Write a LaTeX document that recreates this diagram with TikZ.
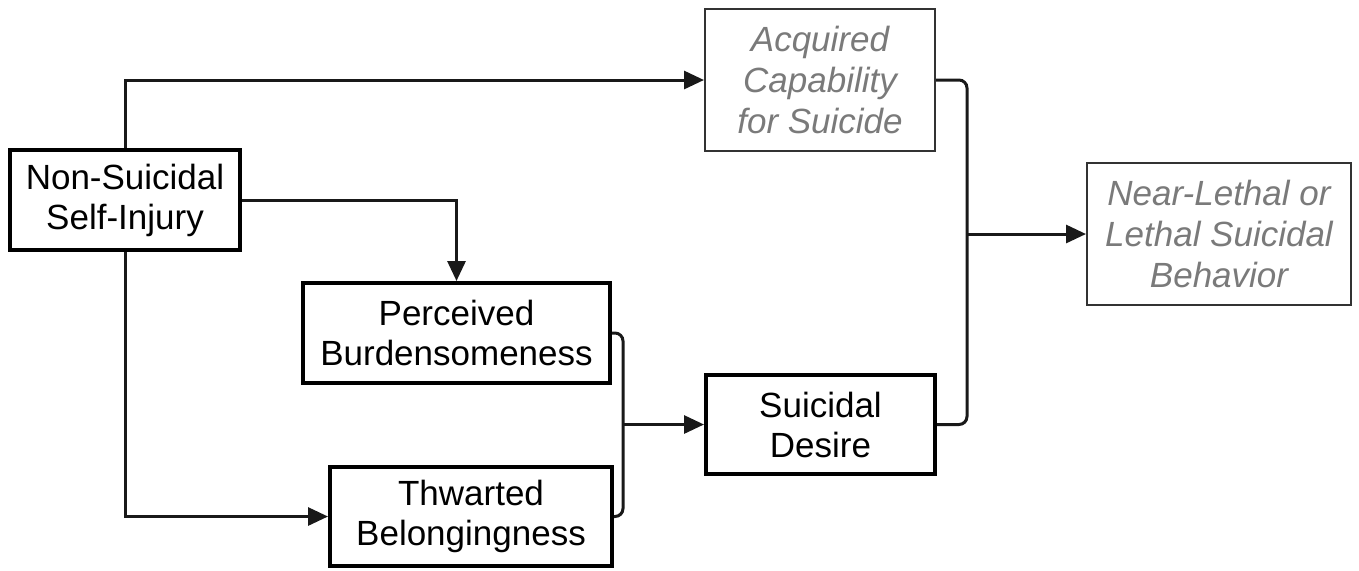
\documentclass[tikz,border=0pt]{standalone}
\usepackage{fontspec}
\setmainfont{Liberation Sans}
\usepackage{xcolor}
\usetikzlibrary{arrows.meta}
\definecolor{textgray}{HTML}{7A7A7A}
\definecolor{linegray}{HTML}{333333}

\begin{document}
\begin{tikzpicture}[x=0.5pt,y=-0.5pt,
    box/.style={draw=black,line width=2pt,align=center,inner sep=0pt,
      font=\fontsize{17.5}{20}\selectfont},
    faintbox/.style={draw=linegray,line width=1pt,align=center,inner sep=0pt,
      text=textgray,font=\fontsize{17.5}{20.5}\selectfont\itshape},
    link/.style={line width=1.5pt,draw=black!90},
    arrow/.style={link,-{Triangle[length=10pt,width=9pt]}}]
  \useasboundingbox (0,0) rectangle (1359,570);
  \node[box,minimum width=115pt,minimum height=50pt] (nssi) at (125,200)
    {Non-Suicidal\\Self-Injury};
  \node[faintbox,minimum width=115pt,minimum height=71pt] (acq) at (820,80)
    {Acquired\\Capability\\for Suicide};
  \node[box,minimum width=153.5pt,minimum height=50pt] (perc) at (456.5,333)
    {Perceived\\Burdensomeness};
  \node[box,minimum width=141pt,minimum height=49.5pt] (thw) at (471,516.5)
    {Thwarted\\Belongingness};
  \node[box,minimum width=114.5pt,minimum height=49.5pt] (des) at (820.5,424.5)
    {Suicidal\\Desire};
  \node[faintbox,minimum width=132pt,minimum height=71pt] (beh) at (1219,234)
    {Near-Lethal or\\Lethal Suicidal\\Behavior};
  \draw[arrow] (nssi.north) |- (acq.west);
  \draw[arrow] (nssi.east) -| (perc.north);
  \draw[arrow] (nssi.south) |- (thw.west);
  \coordinate (joinA) at (623,424.5);
  \draw[link,rounded corners=4pt] (perc.east) -| (joinA) |- (thw.east);
  \draw[arrow] (joinA) -- (des.west);
  \coordinate (joinB) at (967,234);
  \draw[link,rounded corners=4pt] (acq.east) -| (joinB) |- (des.east);
  \draw[arrow] (joinB) -- (beh.west);
\end{tikzpicture}
\end{document}
